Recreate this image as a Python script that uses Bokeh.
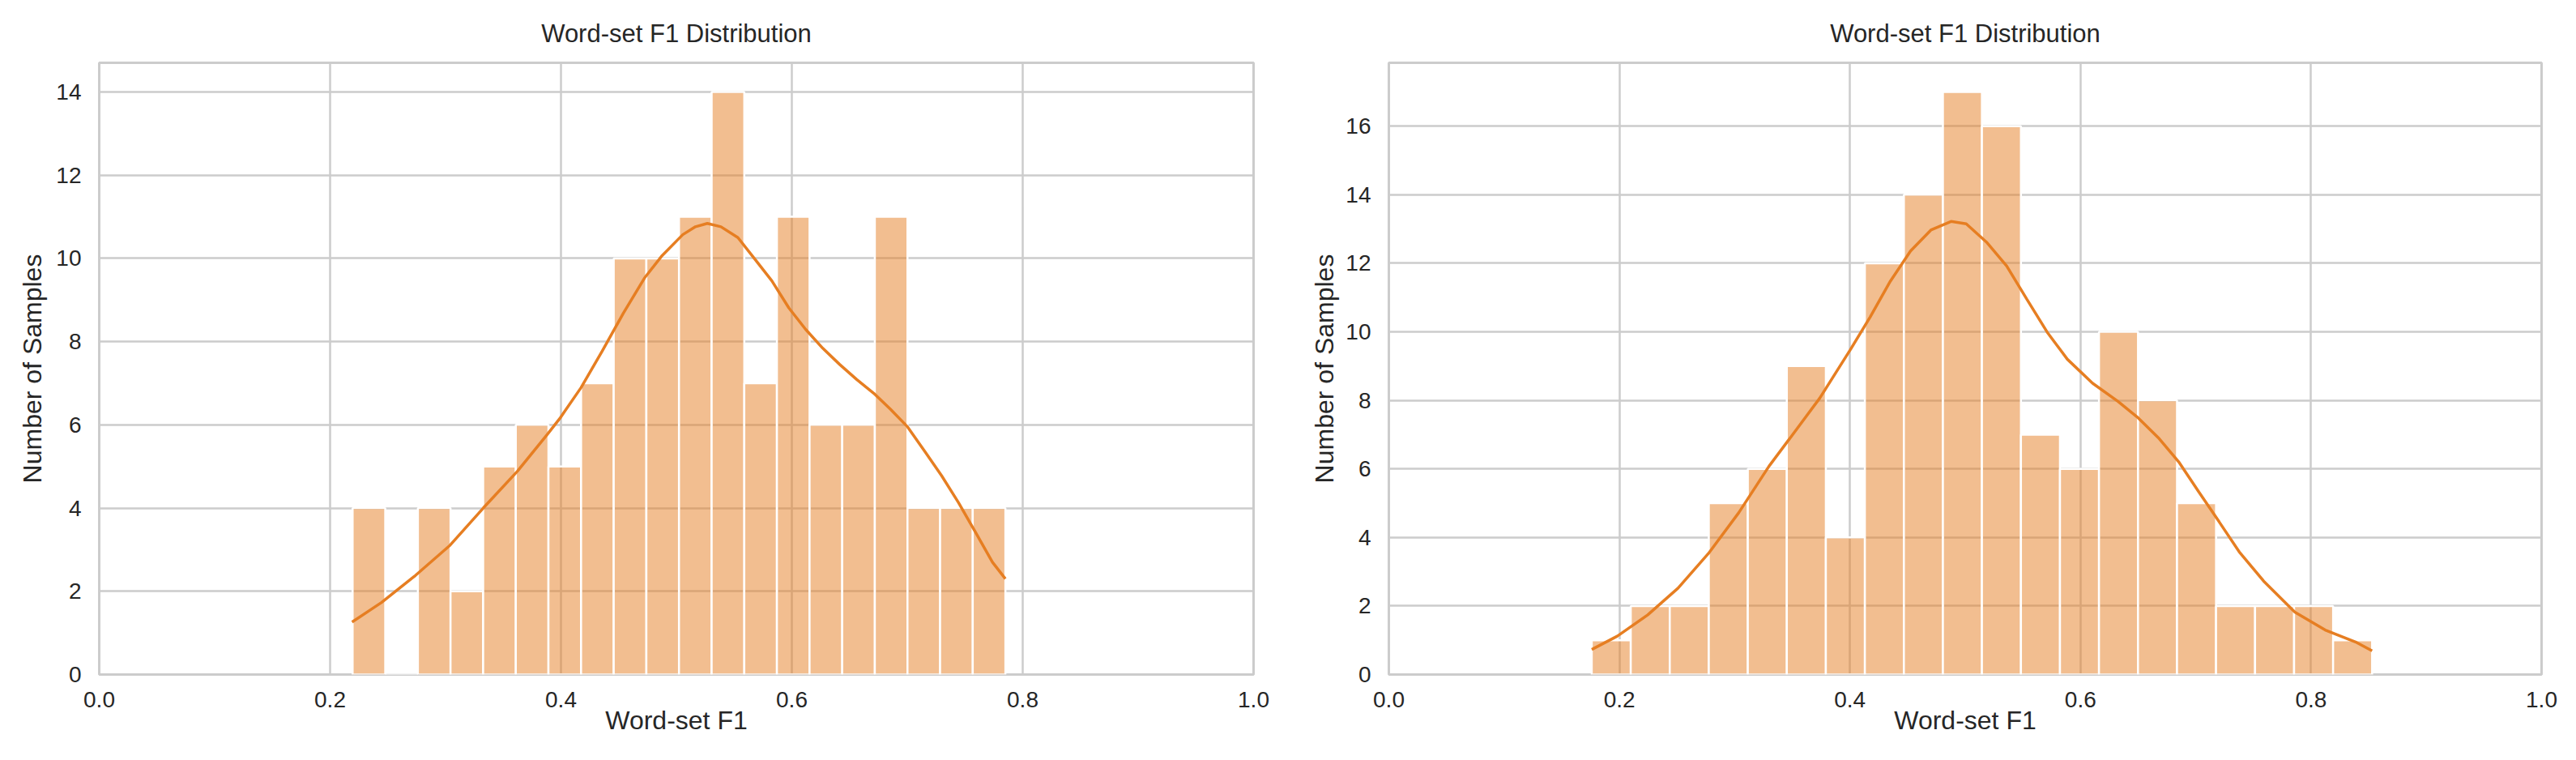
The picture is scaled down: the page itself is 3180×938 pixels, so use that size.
import numpy as np
from bokeh.plotting import figure
from bokeh.layouts import row
from bokeh.models import FixedTicker, PrintfTickFormatter, Range1d, ColumnDataSource
from bokeh.embed import file_html
from bokeh.resources import INLINE

# ---------------- data ----------------
title_text = "Word-set F1 Distribution"
x_label = "Word-set F1"
y_label = "Number of Samples"
x_ticks = [0.0, 0.2, 0.4, 0.6, 0.8, 1.0]
left_y_ticks = [0, 2, 4, 6, 8, 10, 12, 14]
right_y_ticks = [0, 2, 4, 6, 8, 10, 12, 14, 16]

# left histogram: 20 bins between min and max of the data
left_bin_min = 0.2195
left_bin_max = 0.785
left_counts = [4, 0, 4, 2, 5, 6, 5, 7, 10, 10, 11, 14, 7, 11, 6, 6, 11, 4, 4, 4]
left_kde_x = [0.2190, 0.2445, 0.2739, 0.3033, 0.3327, 0.3621, 0.3879, 0.3989,
              0.4173, 0.4357, 0.4540, 0.4724, 0.4871, 0.5055, 0.5165, 0.5268,
              0.5386, 0.5533, 0.5680, 0.5827, 0.5974, 0.6121, 0.6268, 0.6415,
              0.6562, 0.6709, 0.6856, 0.7003, 0.7150, 0.7297, 0.7444, 0.7591,
              0.7738, 0.7850]
left_kde_y = [1.26, 1.73, 2.38, 3.09, 4.00, 4.88, 5.76, 6.15,
              6.89, 7.77, 8.68, 9.53, 10.05, 10.57, 10.76, 10.84,
              10.76, 10.50, 9.98, 9.46, 8.81, 8.29, 7.84, 7.45,
              7.09, 6.76, 6.37, 5.95, 5.37, 4.78, 4.13, 3.42,
              2.70, 2.30]

# right histogram
right_bin_min = 0.176
right_bin_max = 0.853
right_counts = [1, 2, 2, 5, 6, 9, 4, 12, 14, 17, 16, 7, 6, 10, 8, 5, 2, 2, 2, 1]
right_kde_x = [0.1760, 0.1982, 0.2246, 0.2509, 0.2772, 0.3035, 0.3298, 0.3474,
               0.3737, 0.4000, 0.4175, 0.4351, 0.4526, 0.4702, 0.4877, 0.5009,
               0.5184, 0.5360, 0.5535, 0.5711, 0.5886, 0.6105, 0.6325, 0.6500,
               0.6675, 0.6851, 0.7026, 0.7202, 0.7377, 0.7596, 0.7860, 0.8123,
               0.8386, 0.8530]
right_kde_y = [0.73, 1.12, 1.74, 2.52, 3.53, 4.72, 6.08, 6.87,
               8.06, 9.46, 10.43, 11.48, 12.36, 12.97, 13.22, 13.15,
               12.62, 11.92, 10.95, 9.99, 9.20, 8.50, 7.97, 7.49,
               6.91, 6.21, 5.33, 4.46, 3.58, 2.70, 1.82, 1.30,
               0.95, 0.69]

# ---------------- style ----------------
FONT = "Liberation Sans"
TEXT = "#262626"
GRID = "#cccccc"
ORANGE = "#e67e22"


def make_plot(counts, bmin, bmax, kx, ky, yticks, ymax,
              border_left, border_right, frame_w, ylab_standoff):
    edges = np.linspace(bmin, bmax, len(counts) + 1)
    src = ColumnDataSource(dict(left=edges[:-1], right=edges[1:],
                                top=counts, bottom=[0] * len(counts)))
    p = figure(frame_width=frame_w, frame_height=755,
               min_border_left=border_left, min_border_right=border_right,
               min_border_top=77, min_border_bottom=96,
               x_range=Range1d(0, 1), y_range=Range1d(0, ymax),
               output_backend="svg", toolbar_location=None,
               background_fill_color="white", border_fill_color="white")
    p.title.text = title_text
    p.title.align = "center"
    p.title.text_font = FONT
    p.title.text_font_size = "31px"
    p.title.text_font_style = "normal"
    p.title.text_color = TEXT
    p.title.standoff = 37
    p.title.text_line_height = 0.8

    p.quad(left="left", right="right", top="top", bottom="bottom", source=src,
           fill_color=ORANGE, fill_alpha=0.5, line_color="white", line_width=2.5)
    p.line(kx, ky, line_color=ORANGE, line_width=3.5)

    p.outline_line_color = GRID
    p.outline_line_width = 3
    for g in (p.xgrid, p.ygrid):
        g.grid_line_color = GRID
        g.grid_line_width = 2.5
    p.xaxis.ticker = FixedTicker(ticks=x_ticks)
    p.xaxis.formatter = PrintfTickFormatter(format="%.1f")
    p.yaxis.ticker = FixedTicker(ticks=yticks)
    p.xgrid.ticker = FixedTicker(ticks=x_ticks)
    p.ygrid.ticker = FixedTicker(ticks=yticks)

    for ax in (p.xaxis[0], p.yaxis[0]):
        ax.axis_line_color = None
        ax.major_tick_line_color = None
        ax.minor_tick_line_color = None
        ax.major_tick_out = 0
        ax.major_tick_in = 0
        ax.major_label_text_font = FONT
        ax.major_label_text_font_size = "28px"
        ax.major_label_text_color = TEXT
        ax.axis_label_text_font = FONT
        ax.axis_label_text_font_size = "32px"
        ax.axis_label_text_font_style = "normal"
        ax.axis_label_text_color = TEXT
    p.xaxis.axis_label = x_label
    p.yaxis.axis_label = y_label
    p.xaxis.major_label_standoff = 21
    p.xaxis.axis_label_standoff = -5
    p.yaxis.major_label_standoff = 22
    p.yaxis.axis_label_standoff = ylab_standoff
    return p


p1 = make_plot(left_counts, left_bin_min, left_bin_max, left_kde_x, left_kde_y,
               left_y_ticks, 14.7, 122, 33, 1425, 8)
p2 = make_plot(right_counts, right_bin_min, right_bin_max, right_kde_x, right_kde_y,
               right_y_ticks, 17.85, 134, 43, 1423, 5)

layout = row(p1, p2)
open("out.html", "w").write(file_html(layout, INLINE))
